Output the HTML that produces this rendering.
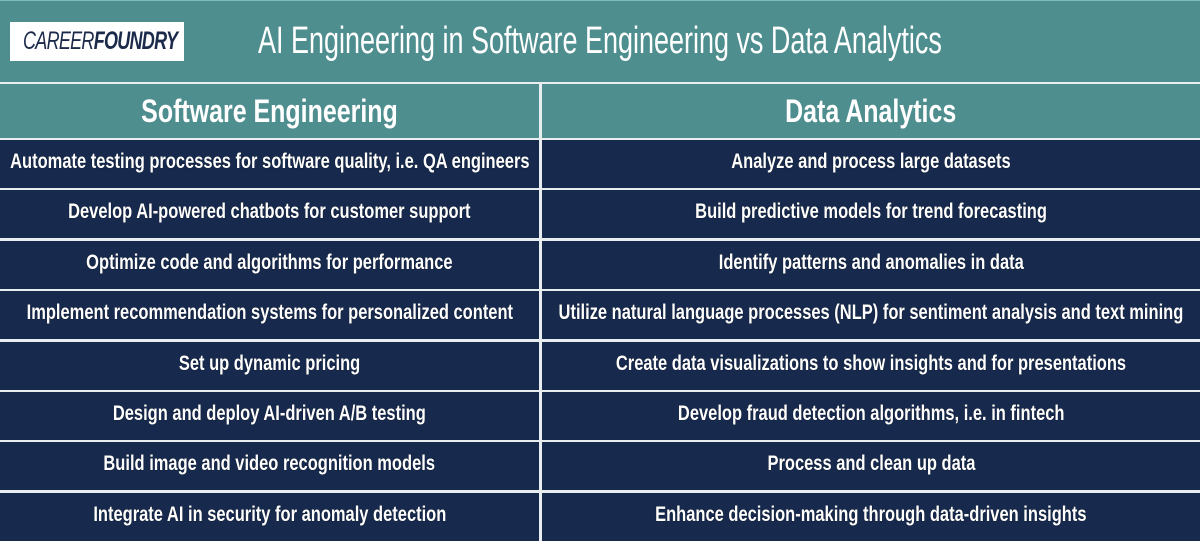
<!DOCTYPE html>
<html><head><meta charset="utf-8"><style>
*{margin:0;padding:0;box-sizing:border-box}
body{width:1200px;height:539px;overflow:hidden;background:#e8eef0;font-family:"Liberation Sans",sans-serif;position:relative}
.top{position:absolute;left:0;top:0;width:1200px;height:82px;background:#4f8e8f;border-top:1px solid #7fbcbc}
.logo{position:absolute;left:10px;top:21px;width:174px;height:39px;background:#fff;overflow:hidden}
.logo span{position:absolute;left:13px;top:0;font-size:25px;color:#1b2a4a;line-height:39px;font-style:italic;letter-spacing:-1px;transform:scaleX(0.72);transform-origin:left center;white-space:nowrap}
.logo b{font-weight:bold}
.title{position:absolute;left:258px;top:18px;font-size:38px;color:#fff;line-height:44px;white-space:nowrap;transform:scaleX(0.71);transform-origin:left center}
.c{position:absolute;display:flex;align-items:center;justify-content:center;color:#fff;white-space:nowrap;font-weight:bold}
.c span{display:inline-block}
.h{background:#4f8e8f;font-size:32px;top:84px;height:54px}
.h span{transform:scaleX(0.78)}
.r{background:#172a4e;font-size:21px;height:48px;text-shadow:0 0 1px #000}
.r span{transform:translateY(-2px) scaleX(0.785)}
</style></head><body>
<div class="top"><div class="logo"><span>CAREER<b>FOUNDRY</b></span></div><div class="title">AI Engineering in Software Engineering vs Data Analytics</div></div>
<div class="c h" style="left:0;width:539px"><span>Software Engineering</span></div>
<div class="c h" style="left:542px;width:658px"><span>Data Analytics</span></div>
<div id="rows"></div>
<script>
var L=["Automate testing processes for software quality, i.e. QA engineers","Develop AI-powered chatbots for customer support","Optimize code and algorithms for performance","Implement recommendation systems for personalized content","Set up dynamic pricing","Design and deploy AI-driven A/B testing","Build image and video recognition models","Integrate AI in security for anomaly detection"];
var R=["Analyze and process large datasets","Build predictive models for trend forecasting","Identify patterns and anomalies in data","Utilize natural language processes (NLP) for sentiment analysis and text mining","Create data visualizations to show insights and for presentations","Develop fraud detection algorithms, i.e. in fintech","Process and clean up data","Enhance decision-making through data-driven insights"];
var h="";
for(var i=0;i<8;i++){var t=140+i*50.4;
h+='<div class="c r" style="left:0;width:539px;top:'+t+'px"><span>'+L[i]+'</span></div>';
h+='<div class="c r" style="left:542px;width:658px;top:'+t+'px"><span>'+R[i]+'</span></div>';}
document.getElementById("rows").innerHTML=h;
</script>
</body></html>
